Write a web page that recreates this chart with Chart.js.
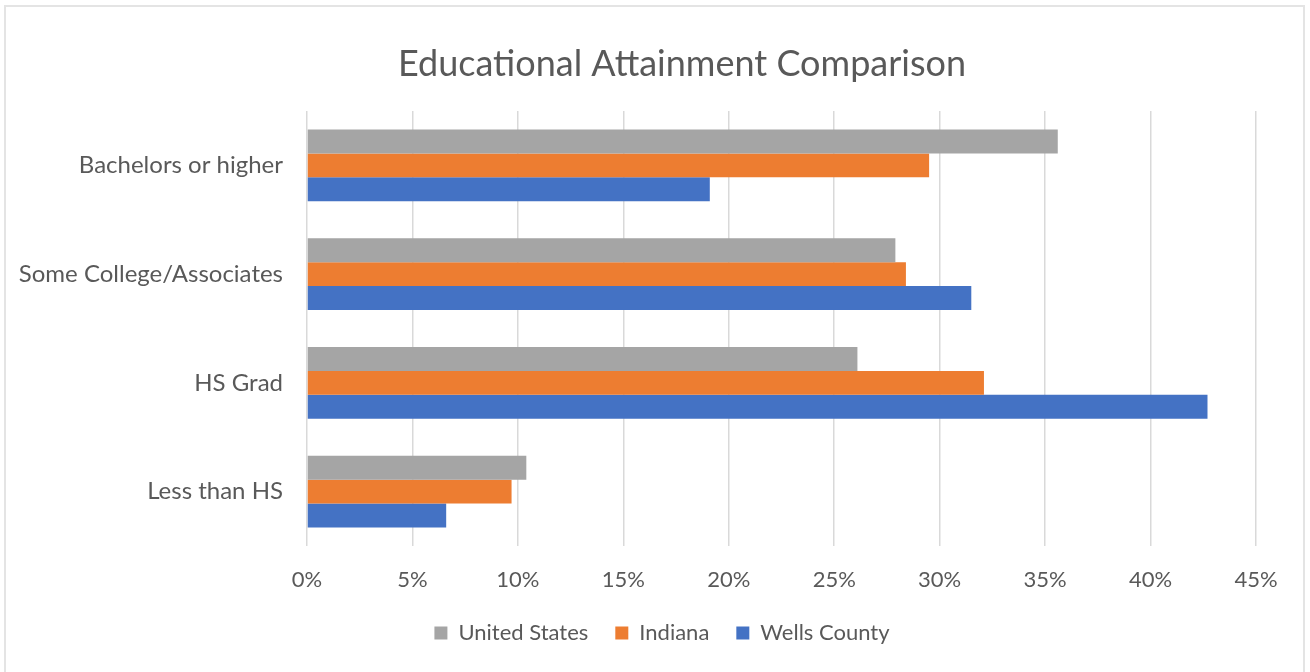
<!DOCTYPE html>
<html>
<head>
<meta charset="utf-8">
<script src="https://cdn.jsdelivr.net/npm/chart.js@4"></script>
<style>
    html, body { margin: 0; padding: 0; background: #ffffff; }
    #wrap { position: relative; width: 1310px; height: 672px; }
    #frame { position: absolute; left: 4px; top: 5px; width: 1301px; height: 670px; border: 2px solid #e4e4e4; box-sizing: border-box; }
    canvas { position: absolute; left: 0; top: 0; }
</style>
</head>
<body>
<div id="wrap">
    <div id="frame"></div>
    <canvas id="eduChart" width="1310" height="672"></canvas>
</div>
<script>
// attainment shares in percent
const categories = ["Bachelors or higher", "Some College/Associates", "HS Grad", "Less than HS"];
const unitedStates = [35.6, 27.9, 26.1, 10.4];
const indiana = [29.5, 28.4, 32.1, 9.7];
const wellsCounty = [19.1, 31.5, 42.7, 6.6];
const xTickLabels = ["0%", "5%", "10%", "15%", "20%", "25%", "30%", "35%", "40%", "45%"];
const chartTitle = "Educational Attainment Comparison";

const textColor = "#595959";
const fontFamily = "Lato, 'Open Sans', sans-serif";

const plotLeft = 307;
const plotRight = 1256;
const padLeft = 14;

// title is drawn by hand so it can sit a bit right of the canvas centre
const titlePlugin = {
    id: 'centerTitle',
    afterDraw(chart) {
        const c = chart.ctx;
        c.save();
        c.font = `36px ${fontFamily}`;
        c.fillStyle = textColor;
        c.textAlign = 'center';
        c.textBaseline = 'middle';
        c.fillText(chartTitle, 682, 64);
        c.restore();
    }
};

const ctx = document.getElementById("eduChart");
const config = {
    type: 'bar',
    data: {
        labels: categories,
        datasets: [
            { label: 'United States', data: unitedStates, backgroundColor: '#a5a5a5' },
            { label: 'Indiana', data: indiana, backgroundColor: '#ed7d31' },
            { label: 'Wells County', data: wellsCounty, backgroundColor: '#4472c4' }
        ]
    },
    options: {
        indexAxis: 'y',
        responsive: false,
        animation: false,
        datasets: {
            bar: { barPercentage: 1, categoryPercentage: 0.66, borderWidth: 0 }
        },
        layout: {
            padding: { left: padLeft, right: 0, top: 111, bottom: 18 }
        },
        scales: {
            x: {
                min: 0,
                max: 45,
                grid: { color: '#d9d9d9', lineWidth: 1.5, drawTicks: false },
                border: { display: false },
                ticks: {
                    stepSize: 5,
                    padding: 21,
                    color: textColor,
                    font: { family: fontFamily, size: 22 },
                    callback: (value, index) => xTickLabels[index]
                },
                afterFit: (scale) => { scale.height = 49; }
            },
            y: {
                grid: { display: false, drawTicks: false },
                border: { display: false },
                ticks: {
                    padding: 24,
                    color: textColor,
                    font: { family: fontFamily, size: 24 }
                },
                afterFit: (scale) => { scale.width = plotLeft - padLeft; }
            },
            // empty right-hand axis, only keeps space right of the plot
            yRight: {
                type: 'category',
                axis: 'y',
                position: 'right',
                grid: { display: false, drawTicks: false },
                border: { display: false },
                ticks: { display: false },
                afterFit: (scale) => { scale.width = 1310 - plotRight; }
            }
        },
        plugins: {
            legend: {
                position: 'bottom',
                labels: {
                    boxWidth: 13,
                    boxHeight: 13,
                    padding: 27,
                    color: textColor,
                    font: { family: fontFamily, size: 22 }
                }
            },
            tooltip: { enabled: false }
        }
    },
    plugins: [titlePlugin]
};

new Chart(ctx, config);
</script>
</body>
</html>
